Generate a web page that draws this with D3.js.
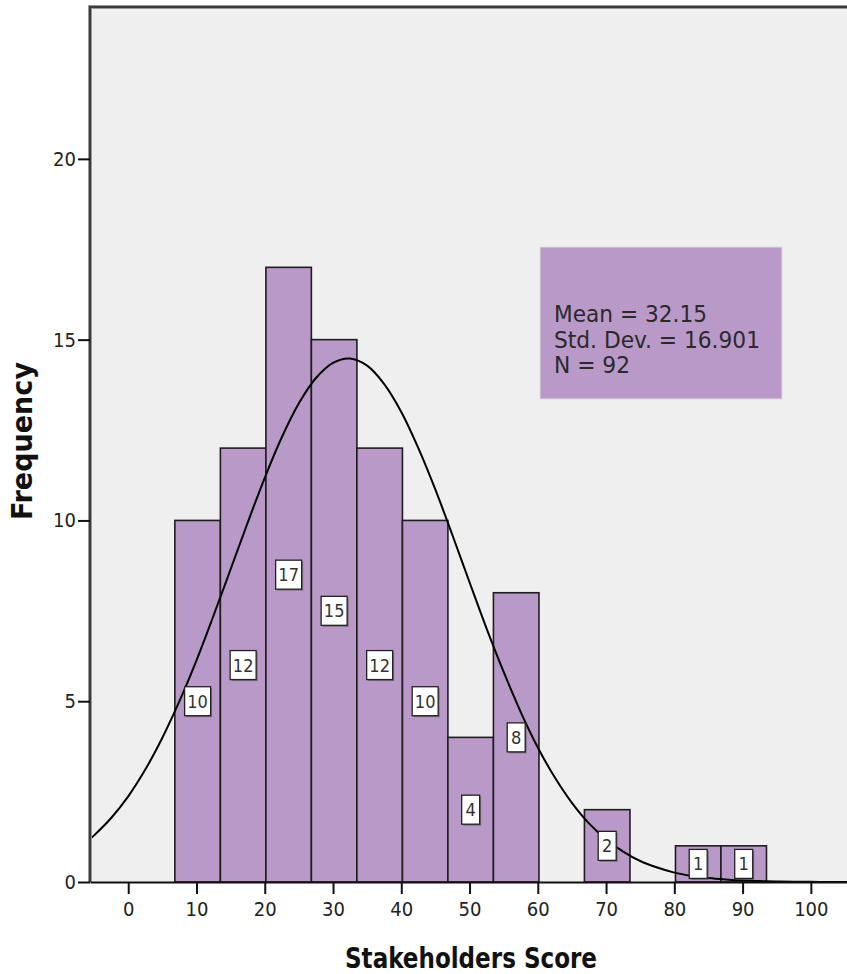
<!DOCTYPE html>
<html>
<head>
<meta charset="utf-8">
<script src="https://cdn.jsdelivr.net/npm/d3@7/dist/d3.min.js"></script>
<style>
  html, body { margin: 0; padding: 0; background: #ffffff; }
  svg { display: block; }
</style>
</head>
<body>
<script>
// ---- data ----
const binEdges = [6.83, 13.5, 20.17, 26.83, 33.5, 40.17, 46.83, 53.5, 60.17, 66.83, 73.5, 80.17, 86.83, 93.5];
const counts   = [10, 12, 17, 15, 12, 10, 4, 8, 0, 2, 0, 1, 1];
const xTicks = [0, 10, 20, 30, 40, 50, 60, 70, 80, 90, 100];
const yTicks = [0, 5, 10, 15, 20];
// normal curve
const curveX = [-5.6, -5, -2.5, 0, 2.5, 5, 7.5, 10, 12.5, 15, 17.5, 20, 22.5, 25, 27.5, 30, 32.5, 35, 37.5, 40, 42.5, 45, 47.5, 50, 52.5, 55, 57.5, 60, 62.5, 65, 67.5, 70, 72.5, 75, 77.5, 80, 82.5, 85, 87.5, 90, 92.5, 95, 97.5, 100, 102.5, 105, 107.5];
const curveY = [1.19, 1.29, 1.77, 2.37, 3.11, 3.99, 5.00, 6.13, 7.37, 8.65, 9.94, 11.18, 12.30, 13.24, 13.94, 14.36, 14.48, 14.28, 13.77, 13.00, 12.00, 10.85, 9.59, 8.29, 7.01, 5.81, 4.70, 3.72, 2.89, 2.19, 1.62, 1.18, 0.84, 0.58, 0.40, 0.26, 0.17, 0.11, 0.07, 0.04, 0.025, 0.014, 0.008, 0.004, 0.002, 0.001, 0.0005];
const statLines = ["Mean = 32.15", "Std. Dev. = 16.901", "N = 92"];
const xTitle = "Stakeholders Score";
const yTitle = "Frequency";

const W = 847, H = 974;
const FONT = "'DejaVu Sans Condensed', 'Liberation Sans Narrow', 'DejaVu Sans', sans-serif";
const BAR = "#b899c8";

const svg = d3.select("body").append("svg").attr("width", W).attr("height", H);

const plot = { left: 90, top: 7, right: 860, bottom: 882 };
const x = d3.scaleLinear().domain([-5.6, 107.2]).range([plot.left, plot.right]);
const y = d3.scaleLinear().domain([0, 24.2]).range([plot.bottom, plot.top]);

// plot background
svg.append("rect")
  .attr("x", plot.left).attr("y", plot.top)
  .attr("width", plot.right - plot.left).attr("height", plot.bottom - plot.top)
  .attr("fill", "#efefef");

// bars
const bins = counts.map((c, i) => ({ x0: binEdges[i], x1: binEdges[i + 1], c }));
svg.append("g").selectAll("rect").data(bins.filter(d => d.c > 0)).join("rect")
  .attr("x", d => x(d.x0)).attr("y", d => y(d.c))
  .attr("width", d => x(d.x1) - x(d.x0)).attr("height", d => y(0) - y(d.c))
  .attr("fill", BAR).attr("stroke", "#1e1e1e").attr("stroke-width", 1.6);

// normal curve
const pts = curveX.map((v, i) => [v, curveY[i]]);
const clip = svg.append("clipPath").attr("id", "pc").append("rect")
  .attr("x", plot.left).attr("y", plot.top)
  .attr("width", plot.right - plot.left).attr("height", plot.bottom - plot.top);
svg.append("path").datum(pts)
  .attr("clip-path", "url(#pc)")
  .attr("d", d3.line().x(d => x(d[0])).y(d => y(d[1])).curve(d3.curveCatmullRom))
  .attr("fill", "none").attr("stroke", "#000").attr("stroke-width", 2);

// value labels
const lab = svg.append("g").selectAll("g").data(bins.filter(d => d.c > 0)).join("g")
  .attr("transform", d => `translate(${x((d.x0 + d.x1) / 2)},${y(d.c / 2)})`);
lab.each(function(d) {
  const g = d3.select(this);
  const w = String(d.c).length > 1 ? 26 : 18;
  const h = 29;
  g.append("rect").attr("x", -w / 2 + 1.5).attr("y", -h / 2 + 1.5).attr("width", w).attr("height", h)
    .attr("fill", "#555").attr("opacity", 0.6);
  g.append("rect").attr("x", -w / 2).attr("y", -h / 2).attr("width", w).attr("height", h)
    .attr("fill", "#fff").attr("stroke", "#222").attr("stroke-width", 1.3);
  g.append("text").text(d.c).attr("text-anchor", "middle").attr("dy", "0.36em")
    .attr("font-family", FONT).attr("font-size", 18).attr("fill", "#333");
});

// stats box
const sb = svg.append("g");
sb.append("rect").attr("x", 540).attr("y", 247).attr("width", 242).attr("height", 152)
  .attr("fill", BAR).attr("stroke", "#ddd").attr("stroke-width", 1);
const statW = [153, 206, 76];
sb.selectAll("text").data(statLines).join("text")
  .attr("x", 554).attr("y", (d, i) => 322 + i * 25.5)
  .attr("font-family", FONT).attr("font-size", 23).attr("fill", "#2a2a2a")
  .attr("textLength", (d, i) => statW[i]).attr("lengthAdjust", "spacingAndGlyphs")
  .text(d => d);

// frame (left and top)
svg.append("path")
  .attr("d", `M${plot.left},${plot.bottom} V${plot.top} H${plot.right}`)
  .attr("fill", "none").attr("stroke", "#9a9a9a").attr("stroke-width", 4);
svg.append("path")
  .attr("d", `M${plot.left},${plot.bottom} V${plot.top} H${plot.right}`)
  .attr("fill", "none").attr("stroke", "#3a3a3a").attr("stroke-width", 2);

// axes
const xAxis = d3.axisBottom(x).tickValues(xTicks).tickSize(12).tickPadding(8).tickSizeOuter(0);
const gx = svg.append("g").attr("transform", `translate(0,${plot.bottom})`).call(xAxis);
gx.select(".domain").attr("stroke", "#111").attr("stroke-width", 2);
gx.selectAll(".tick line").attr("stroke", "#111").attr("stroke-width", 2);
gx.selectAll("text").attr("font-family", FONT).attr("font-size", 20).attr("fill", "#222");

const yAxis = d3.axisLeft(y).tickValues(yTicks).tickSize(12).tickPadding(2).tickSizeOuter(0);
const gy = svg.append("g").attr("transform", `translate(${plot.left},0)`).call(yAxis);
gy.select(".domain").remove();
gy.selectAll(".tick line").attr("stroke", "#111").attr("stroke-width", 2);
gy.selectAll("text").attr("font-family", FONT).attr("font-size", 20).attr("fill", "#222");

// axis titles
svg.append("text").attr("x", 471).attr("y", 968).attr("text-anchor", "middle")
  .attr("font-family", FONT).attr("font-weight", "bold").attr("font-size", 29).attr("fill", "#111")
  .attr("textLength", 252).attr("lengthAdjust", "spacingAndGlyphs").text(xTitle);
svg.append("text").attr("transform", "translate(32,441) rotate(-90)").attr("text-anchor", "middle")
  .attr("font-family", FONT).attr("font-weight", "bold").attr("font-size", 28).attr("fill", "#111")
  .attr("textLength", 158).attr("lengthAdjust", "spacingAndGlyphs").text(yTitle);
</script>
</body>
</html>
